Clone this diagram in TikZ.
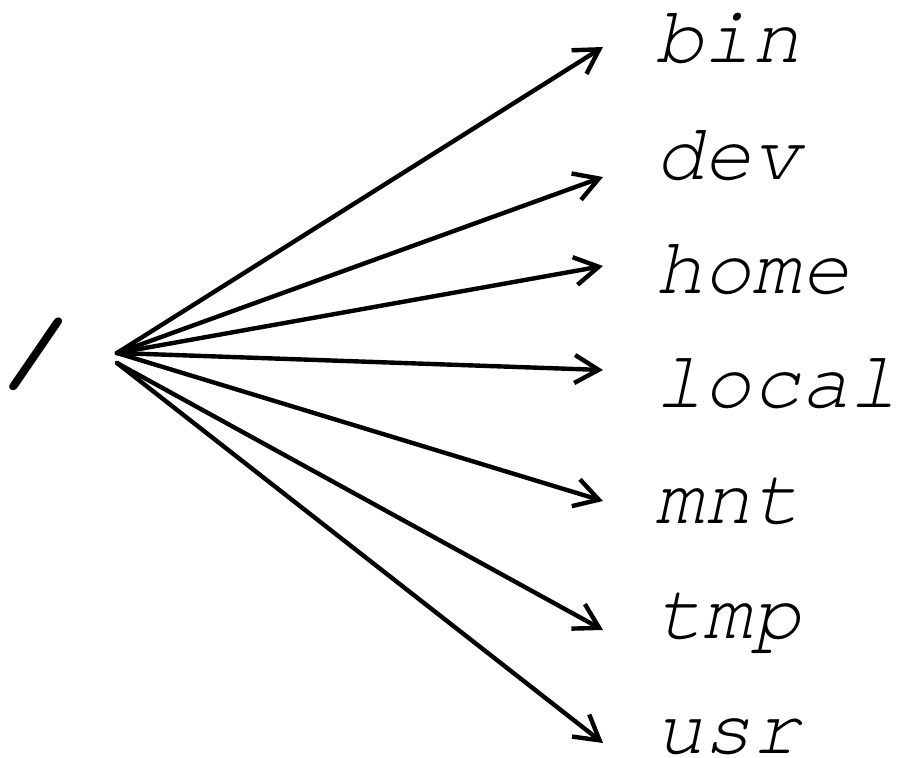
\documentclass[tikz,border=0pt]{standalone}
\usepackage{fontspec}
\newfontfamily\labfont{TeX Gyre Cursor}
\usetikzlibrary{arrows.meta}
\tikzset{
  lab/.style={anchor=base west, inner sep=0pt, font=\labfont\itshape\fontsize{81}{81}\selectfont},
  rootlab/.style={anchor=center, inner sep=0pt, font=\labfont\bfseries\itshape\fontsize{90}{90}\selectfont},
  conn/.style={line width=4.4pt, -{Straight Barb[length=24pt,width=28pt,line width=4.4pt]}, line cap=round},
}
\begin{document}
\begin{tikzpicture}[x=1pt,y=-1pt]
\useasboundingbox (0,0) rectangle (898,758);
\node[rootlab] (root) at (31,354) {/};
\coordinate (s1) at (117,353);
\coordinate (s2) at (117,363);
\node[lab] (bin) at (655,62) {bin};
\node[lab] (dev) at (655,179) {dev};
\node[lab] (home) at (655,293) {home};
\node[lab] (local) at (655,407) {local};
\node[lab] (mnt) at (655,523) {mnt};
\node[lab] (tmp) at (655,638) {tmp};
\node[lab] (usr) at (655,753) {usr};
\coordinate (tbin) at (603,47);
\coordinate (tdev) at (603,177);
\coordinate (thome) at (603,266);
\coordinate (tlocal) at (603,370);
\coordinate (tmnt) at (603,501);
\coordinate (ttmp) at (603,630);
\coordinate (tusr) at (603,743);
\draw[conn] (s1) -- (tbin);
\draw[conn] (s1) -- (tdev);
\draw[conn] (s1) -- (thome);
\draw[conn] (s1) -- (tlocal);
\draw[conn] (s1) -- (tmnt);
\draw[conn] (s2) -- (ttmp);
\draw[conn] (s2) -- (tusr);
\end{tikzpicture}
\end{document}
